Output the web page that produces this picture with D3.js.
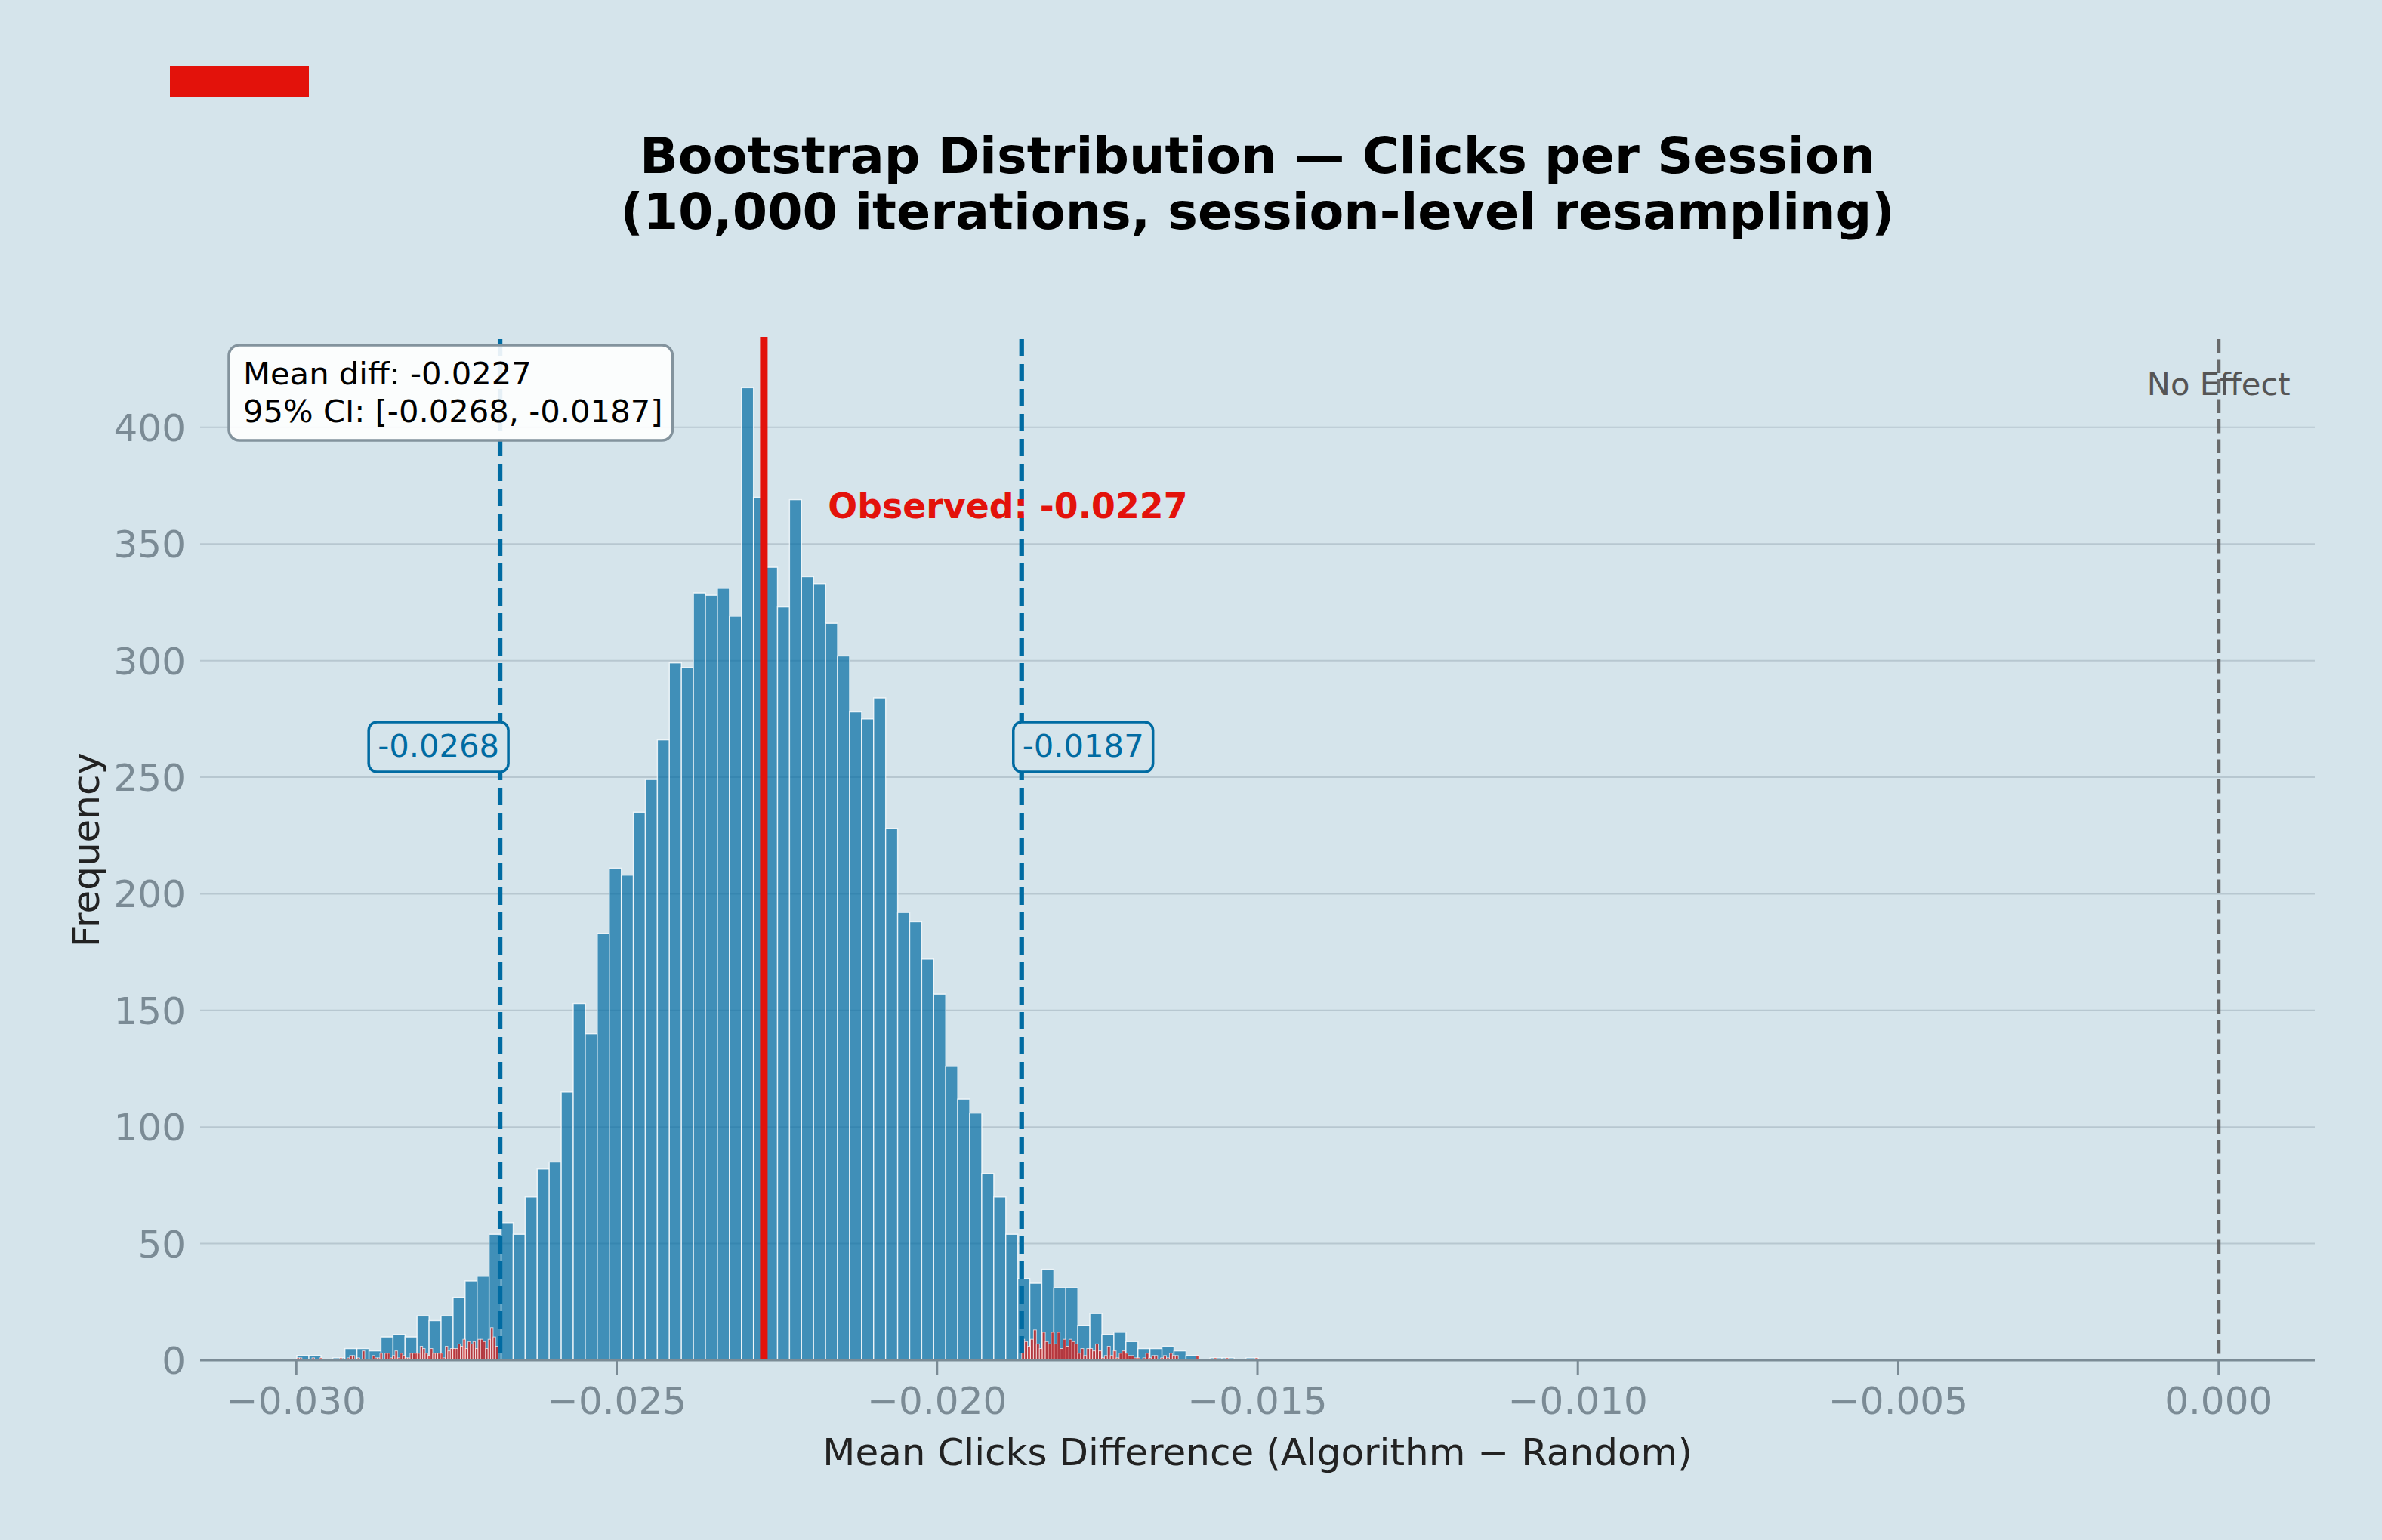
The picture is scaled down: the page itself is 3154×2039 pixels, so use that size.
<!DOCTYPE html>
<html>
<head>
<meta charset="utf-8">
<script src="https://cdn.jsdelivr.net/npm/d3@7"></script>
<style>
html,body{margin:0;padding:0;background:#d5e4eb;}
svg{display:block;font-family:"DejaVu Sans",sans-serif;}
</style>
</head>
<body>
<svg id="chart" width="3154" height="2039"></svg>
<script>
// ---------------- DATA ----------------
const titleLines = ["Bootstrap Distribution \u2014 Clicks per Session", "(10,000 iterations, session-level resampling)"];
const xLabel = "Mean Clicks Difference (Algorithm \u2212 Random)";
const yLabel = "Frequency";

// full bootstrap histogram (80 equal bins)
const histRange = [-0.02999, -0.01499];
const histCounts = [
  2,2,0,1,5,5,4,10,11,10,
  19,17,19,27,34,36,54,59,54,70,
  82,85,115,153,140,183,211,208,235,249,
  266,299,297,329,328,331,319,417,370,340,
  323,369,336,333,316,302,278,275,284,228,
  192,188,172,157,126,112,106,80,70,54,
  35,33,39,31,31,15,20,11,12,8,
  5,5,6,4,2,0,1,1,0,1
];

// tail histograms (values outside the 95% CI, 80 bins each)
const leftTailRange = [-0.02999, -0.02685];
const leftTailCounts = [
  1,1,0,0,0,0,1,0,0,1,
  0,0,0,0,0,0,0,1,0,0,
  1,2,2,0,1,0,4,0,0,0,
  2,1,1,3,0,3,3,1,2,4,
  1,3,2,1,1,3,3,3,3,6,
  5,3,2,5,3,3,3,3,1,6,
  4,5,5,5,7,6,9,5,8,7,
  8,5,9,9,8,5,9,14,10,6
];
const rightTailRange = [-0.01868, -0.01499];
const rightTailCounts = [
  9,8,6,9,13,7,5,12,8,7,
  12,7,12,5,9,6,9,8,7,3,
  5,2,5,5,4,7,4,1,2,6,
  2,4,1,3,4,3,2,2,1,1,
  0,1,3,1,2,2,0,1,2,1,
  3,2,2,0,0,0,0,0,0,2,
  0,0,0,0,0,1,0,0,0,1,
  0,0,0,0,0,0,0,0,0,1
];

const observedDiff = -0.022703;
const ciBounds = [-0.02682, -0.01868];
const ciLabels = ["-0.0268", "-0.0187"];
const statsLines = ["Mean diff: -0.0227", "95% CI: [-0.0268, -0.0187]"];
const observedLabel = "Observed: -0.0227";
const noEffectLabel = "No Effect";
const xTicks = [-0.030, -0.025, -0.020, -0.015, -0.010, -0.005, 0.000];
const yTicks = [0, 50, 100, 150, 200, 250, 300, 350, 400];
const xDomain = [-0.0315, 0.0015];
const yMax = 417 * 1.05;

// ---------------- LAYOUT ----------------
const W = 3154, H = 2039;
const plot = {left: 265, right: 3065, top: 449, bottom: 1801};
const BG = "#d5e4eb";
const BLUE = "#006ba2";
const RED = "#e3120b";
const GRAY = "#7b8b95";

const svg = d3.select("#chart");
svg.append("rect").attr("width", W).attr("height", H).attr("fill", BG);

const x = d3.scaleLinear().domain(xDomain).range([plot.left, plot.right]);
const y = d3.scaleLinear().domain([0, yMax]).range([plot.bottom, plot.top]);

// top-left red accent
svg.append("rect").attr("x", 225).attr("y", 88).attr("width", 184).attr("height", 40).attr("fill", RED);

// title
const title = svg.append("text").attr("text-anchor", "middle").attr("font-weight", "bold")
  .attr("font-size", 66.7).attr("fill", "#000");
titleLines.forEach((t, i) => {
  title.append("tspan").attr("x", (plot.left + plot.right) / 2).attr("y", 229 + i * 74).text(t);
});

// gridlines
svg.append("g").selectAll("line").data(yTicks.filter(d => d > 0)).join("line")
  .attr("x1", plot.left).attr("x2", plot.right)
  .attr("y1", d => y(d)).attr("y2", d => y(d))
  .attr("stroke", "#b7c7d0").attr("stroke-width", 2);

function binsOf(range, counts) {
  const n = counts.length, w = (range[1] - range[0]) / n;
  return counts.map((c, i) => ({x0: range[0] + i * w, x1: range[0] + (i + 1) * w, c}));
}

// main histogram
svg.append("g").selectAll("rect").data(binsOf(histRange, histCounts)).join("rect")
  .attr("x", d => x(d.x0)).attr("width", d => x(d.x1) - x(d.x0))
  .attr("y", d => y(d.c)).attr("height", d => y(0) - y(d.c))
  .attr("fill", BLUE).attr("fill-opacity", 0.7)
  .attr("stroke", "#ffffff").attr("stroke-opacity", 0.8).attr("stroke-width", 1.4);

// tail histograms
const tails = binsOf(leftTailRange, leftTailCounts).concat(binsOf(rightTailRange, rightTailCounts)).filter(d => d.c > 0);
svg.append("g").selectAll("rect").data(tails).join("rect")
  .attr("x", d => x(d.x0)).attr("width", d => x(d.x1) - x(d.x0))
  .attr("y", d => y(d.c)).attr("height", d => y(0) - y(d.c))
  .attr("fill", RED).attr("fill-opacity", 0.7)
  .attr("stroke", "#ffffff").attr("stroke-opacity", 0.7).attr("stroke-width", 1);

// CI lines
svg.append("g").selectAll("line").data(ciBounds).join("line")
  .attr("x1", d => x(d)).attr("x2", d => x(d))
  .attr("y1", plot.top).attr("y2", plot.bottom)
  .attr("stroke", BLUE).attr("stroke-width", 6.25).attr("stroke-dasharray", "23,10");

// observed line
svg.append("line").attr("x1", x(observedDiff)).attr("x2", x(observedDiff))
  .attr("y1", plot.top - 3).attr("y2", plot.bottom)
  .attr("stroke", RED).attr("stroke-width", 10);

// zero line
svg.append("line").attr("x1", x(0)).attr("x2", x(0))
  .attr("y1", plot.top).attr("y2", plot.bottom)
  .attr("stroke", "#555555").attr("stroke-opacity", 0.85).attr("stroke-width", 5).attr("stroke-dasharray", "18.5,8");

svg.append("text").attr("x", x(0)).attr("y", 523).attr("text-anchor", "middle")
  .attr("font-size", 41.7).attr("fill", "#555").text(noEffectLabel);

// observed label
svg.append("text").attr("x", x(observedDiff + 0.001)).attr("y", y(361))
  .attr("font-size", 45.8).attr("font-weight", "bold").attr("fill", RED).text(observedLabel);

// CI labels with boxes
ciBounds.forEach((v, i) => {
  const g = svg.append("g");
  const t = g.append("text")
    .attr("x", i === 0 ? x(v) - 1 : x(v) + 1)
    .attr("y", y(263) + 13)
    .attr("text-anchor", i === 0 ? "end" : "start")
    .attr("font-size", 41.7).attr("fill", BLUE).text(ciLabels[i]);
  const bb = t.node().getBBox();
  g.insert("rect", "text")
    .attr("x", bb.x - 12).attr("y", y(263) - 33)
    .attr("width", bb.width + 24).attr("height", 66)
    .attr("rx", 11).attr("ry", 11)
    .attr("fill", BG).attr("stroke", BLUE).attr("stroke-width", 3.5);
});

// stats box
{
  const g = svg.append("g");
  const t = g.append("text").attr("font-size", 41.7).attr("fill", "#000");
  statsLines.forEach((s, i) => t.append("tspan").attr("x", 322).attr("y", 509 + i * 50).text(s));
  const bb = t.node().getBBox();
  g.insert("rect", "text")
    .attr("x", bb.x - 19).attr("y", 457)
    .attr("width", bb.width + 32).attr("height", 126)
    .attr("rx", 14).attr("ry", 14)
    .attr("fill", "#ffffff").attr("fill-opacity", 0.9)
    .attr("stroke", "#83939d").attr("stroke-width", 3.5);
}

// bottom spine
svg.append("line").attr("x1", plot.left).attr("x2", plot.right)
  .attr("y1", plot.bottom).attr("y2", plot.bottom)
  .attr("stroke", GRAY).attr("stroke-width", 3);

// x axis ticks and labels
const fmtX = d => d3.format(".3f")(d).replace("-", "\u2212");
const xt = svg.append("g");
xt.selectAll("line").data(xTicks).join("line")
  .attr("x1", d => x(d)).attr("x2", d => x(d))
  .attr("y1", plot.bottom).attr("y2", plot.bottom + 20)
  .attr("stroke", GRAY).attr("stroke-width", 3);
xt.selectAll("text").data(xTicks).join("text")
  .attr("x", d => x(d)).attr("y", 1872).attr("text-anchor", "middle")
  .attr("font-size", 50).attr("fill", GRAY).text(fmtX);

// y axis labels
svg.append("g").selectAll("text").data(yTicks).join("text")
  .attr("x", 246).attr("y", d => y(d) + 18).attr("text-anchor", "end")
  .attr("font-size", 50).attr("fill", GRAY).text(d => d);

// axis titles
svg.append("text").attr("x", (plot.left + plot.right) / 2).attr("y", 1940)
  .attr("text-anchor", "middle").attr("font-size", 50).attr("fill", "#222").text(xLabel);
svg.append("text").attr("transform", `translate(131,${(plot.top + plot.bottom) / 2}) rotate(-90)`)
  .attr("text-anchor", "middle").attr("font-size", 50).attr("fill", "#222").text(yLabel);
</script>
</body>
</html>
